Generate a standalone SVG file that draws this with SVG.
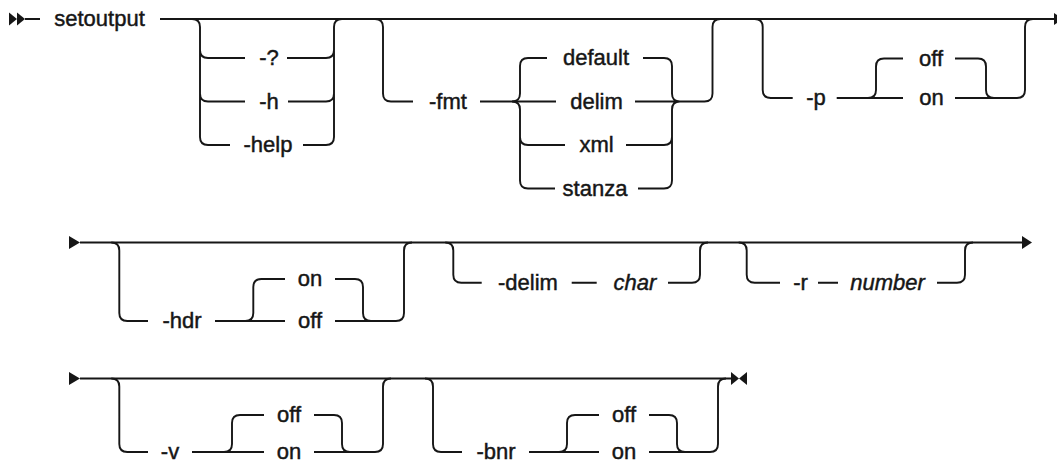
<svg xmlns="http://www.w3.org/2000/svg" width="1057" height="464" viewBox="0 0 1057 464">
<style>
.c{fill:none;stroke:#161616;stroke-width:1.9;stroke-linecap:butt;stroke-linejoin:round}
.m{fill:#161616;stroke:none}
text{font-family:"Liberation Sans",Arial,sans-serif;font-size:22px;fill:#161616;stroke:#161616;stroke-width:0.45;text-anchor:middle}
.v{font-style:italic}
</style>
<rect width="1057" height="464" fill="#ffffff"/>
<g id="markers">
<polygon class="m" points="9,12.5 9,25.5 17,19"/>
<polygon class="m" points="17,12.5 17,25.5 25,19"/>
<polygon class="m" points="1054,13 1054,25 1063,19"/>
<polygon class="m" points="69,236 69,249 80,242.5"/>
<polygon class="m" points="1022,236 1022,249 1032,242.5"/>
<polygon class="m" points="69,372 69,385 80,378.5"/>
<polygon class="m" points="731,372 731,385 739,378.5"/>
<polygon class="m" points="747,372 747,385 739,378.5"/>
</g>
<g id="connectors">
<path class="c" d="M25,19 H40 M160,19 H1054"/>
<path class="c" d="M192,19 Q200,19 200,27 V137 Q200,145 208,145 H230 M200,50 Q200,58 208,58 H245 M200,93.5 Q200,101.5 208,101.5 H245"/>
<path class="c" d="M287,58 H326 Q334,58 334,50 M288,101.5 H326 Q334,101.5 334,93.5 M303,145 H326 Q334,145 334,137 V27 Q334,19 342,19"/>
<path class="c" d="M375,19 Q383,19 383,27 V93.5 Q383,101.5 391,101.5 H413 M480,101.5 H556"/>
<path class="c" d="M512,101.5 Q520,101.5 520,93.5 V66 Q520,58 528,58 H547 M512,101.5 Q520,101.5 520,109.5 V180.5 Q520,188.5 528,188.5 H555 M520,137 Q520,145 528,145 H565"/>
<path class="c" d="M643,58 H664 Q672,58 672,66 V93.5 Q672,101.5 680,101.5 M635,101.5 H704.5 Q712.5,101.5 712.5,93.5 V27 Q712.5,19 720.5,19 M626,145 H664 Q672,145 672,137 M638,188.5 H664 Q672,188.5 672,180.5 V109.5 Q672,101.5 680,101.5"/>
<path class="c" d="M754.7,19 Q762.7,19 762.7,27 V90 Q762.7,98 770.7,98 H792.7 M836.7,98 H903 M868,98 Q876,98 876,90 V66.5 Q876,58.5 884,58.5 H903"/>
<path class="c" d="M955,58.5 H978 Q986,58.5 986,66.5 V90 Q986,98 994,98 M955,98 H1017 Q1025,98 1025,90 V27 Q1025,19 1033,19"/>
<path class="c" d="M80,242.5 H1022"/>
<path class="c" d="M111.3,242.5 Q119.3,242.5 119.3,250.5 V313 Q119.3,321 127.3,321 H148 M215,321 H285 M245.3,321 Q253.3,321 253.3,313 V287 Q253.3,279 261.3,279 H285"/>
<path class="c" d="M335,279 H355 Q363,279 363,287 V313 Q363,321 371,321 M335,321 H396 Q404,321 404,313 V250.5 Q404,242.5 412,242.5"/>
<path class="c" d="M445.3,242.5 Q453.3,242.5 453.3,250.5 V274.7 Q453.3,282.7 461.3,282.7 H481.7 M571.7,282.7 H596.7 M668,282.7 H692 Q700,282.7 700,274.7 V250.5 Q700,242.5 708,242.5"/>
<path class="c" d="M738.7,242.5 Q746.7,242.5 746.7,250.5 V274.7 Q746.7,282.7 754.7,282.7 H780 M818,282.7 H838 M937,282.7 H957 Q965,282.7 965,274.7 V250.5 Q965,242.5 973,242.5"/>
<path class="c" d="M80,378.5 H731"/>
<path class="c" d="M111.3,378.5 Q119.3,378.5 119.3,386.5 V444 Q119.3,452 127.3,452 H148 M192,452 H264 M224,452 Q232,452 232,444 V423 Q232,415 240,415 H264"/>
<path class="c" d="M314,415 H334 Q342,415 342,423 V444 Q342,452 350,452 M314,452 H375 Q383,452 383,444 V386.5 Q383,378.5 391,378.5"/>
<path class="c" d="M425,378.5 Q433,378.5 433,386.5 V444 Q433,452 441,452 H462 M529,452 H599 M559,452 Q567,452 567,444 V423 Q567,415 575,415 H599"/>
<path class="c" d="M649,415 H669 Q677,415 677,423 V444 Q677,452 685,452 M649,452 H710 Q718,452 718,444 V386.5 Q718,378.5 726,378.5"/>
</g>
<g id="n-setoutput"><text x="99.5" y="26">setoutput</text></g>
<g id="n-q"><text x="269" y="65">-?</text></g>
<g id="n-h"><text x="269" y="108.5">-h</text></g>
<g id="n-help"><text x="268" y="152">-help</text></g>
<g id="n-fmt"><text x="448" y="108.5">-fmt</text></g>
<g id="n-default"><text x="596" y="65">default</text></g>
<g id="n-delim"><text x="596.5" y="108.5">delim</text></g>
<g id="n-xml"><text x="596.5" y="152">xml</text></g>
<g id="n-stanza"><text x="595" y="195.5">stanza</text></g>
<g id="n-p"><text x="816" y="105">-p</text></g>
<g id="n-p-off"><text x="931" y="65.5">off</text></g>
<g id="n-p-on"><text x="931.5" y="105">on</text></g>
<g id="n-hdr"><text x="182" y="328">-hdr</text></g>
<g id="n-hdr-on"><text x="310" y="286">on</text></g>
<g id="n-hdr-off"><text x="310" y="328">off</text></g>
<g id="n-delimopt"><text x="528" y="289.7">-delim</text></g>
<g id="n-char"><text class="v" x="635" y="289.7">char</text></g>
<g id="n-r"><text x="800.5" y="289.7">-r</text></g>
<g id="n-number"><text class="v" x="887.5" y="289.7">number</text></g>
<g id="n-v"><text x="170" y="458.5">-v</text></g>
<g id="n-v-off"><text x="289" y="422">off</text></g>
<g id="n-v-on"><text x="289" y="458.5">on</text></g>
<g id="n-bnr"><text x="496" y="458.5">-bnr</text></g>
<g id="n-bnr-off"><text x="624" y="422">off</text></g>
<g id="n-bnr-on"><text x="624" y="458.5">on</text></g>
</svg>
